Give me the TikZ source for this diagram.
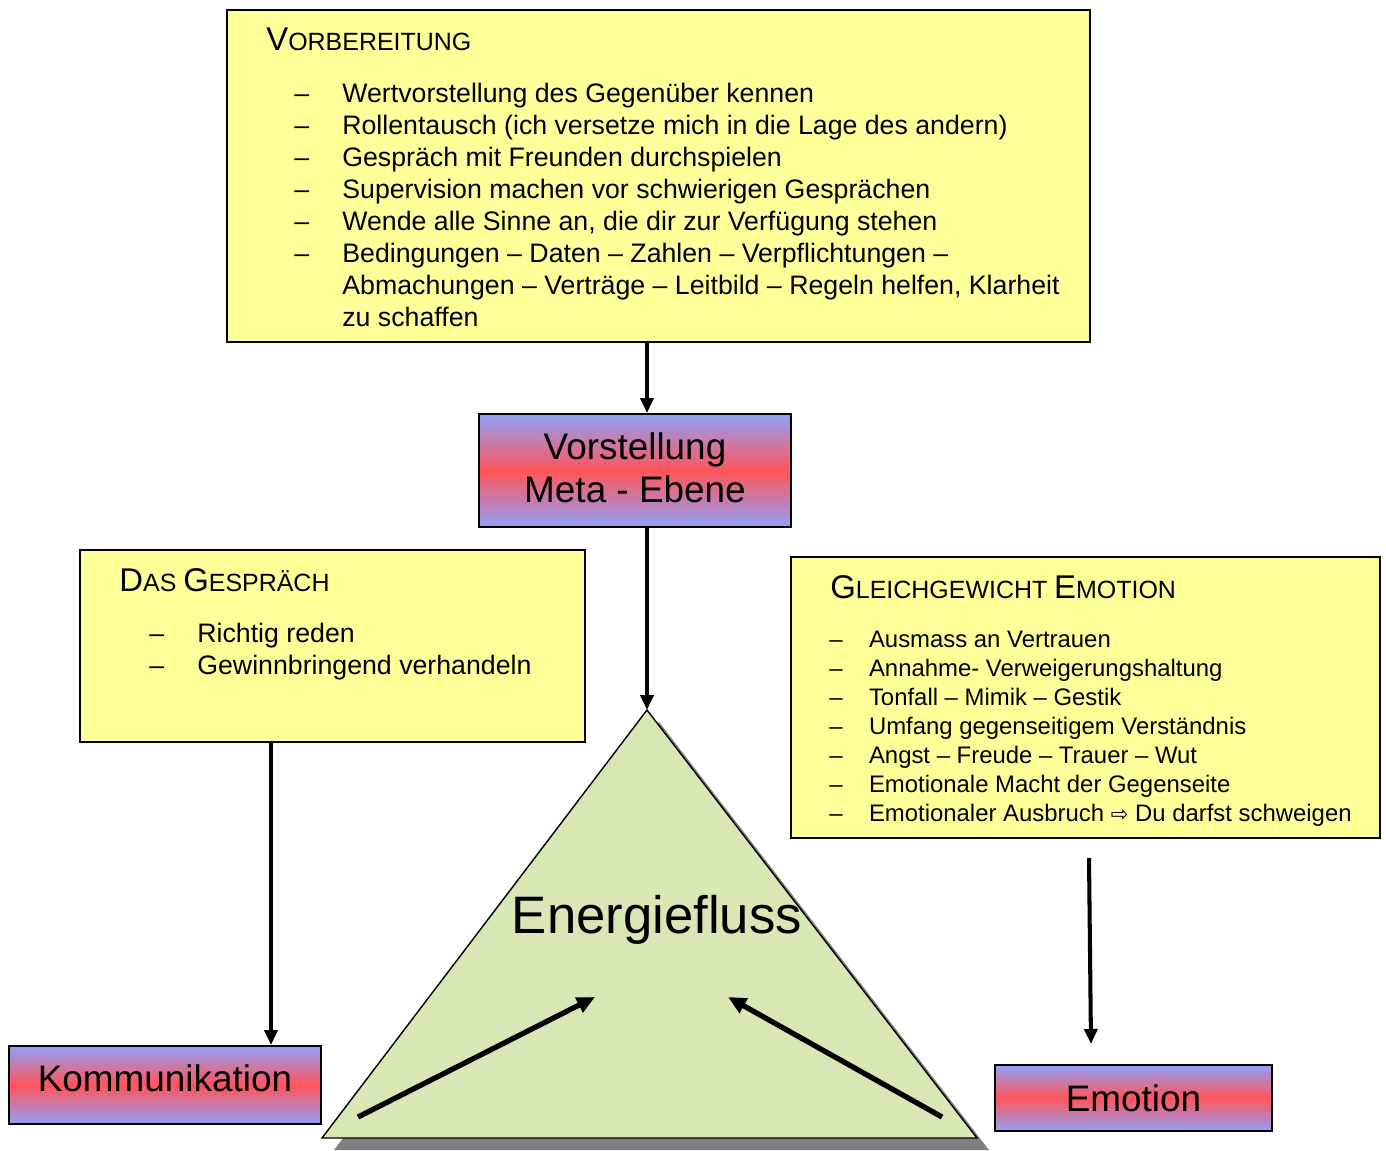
\documentclass[tikz,border=0pt]{standalone}
\usepackage{fontspec}
\setmainfont{Liberation Sans}
\newfontfamily\arrowfont{DejaVu Sans}
\usepackage{tikz}
\usetikzlibrary{positioning}
\usetikzlibrary{arrows.meta}
\usepackage{xcolor}

\definecolor{boxyellow}{RGB}{255,255,153}
\definecolor{trigreen}{RGB}{216,232,180}
\definecolor{shadeblue}{RGB}{145,160,250}
\definecolor{shadered}{RGB}{255,85,90}
\definecolor{shadowgray}{RGB}{128,128,128}

\newcommand{\scap}[2]{{\fontsize{18.7}{22}\selectfont #1}{\fontsize{14.2}{17}\selectfont #2}}
\newcommand{\dashitem}[1][0.96cm]{\makebox[#1][l]{–}}

\begin{document}
\begin{tikzpicture}[
  note/.style={draw, line width=1.1pt, fill=boxyellow, inner sep=0pt},
  notetitle/.style={inner sep=0pt},
  notelist/.style={inner sep=0pt, align=left, font=\fontsize{15.2}{18.2}\selectfont},
  smalllist/.style={inner sep=0pt, align=left, font=\fontsize{13.6}{16.5}\selectfont},
  level/.style={draw, line width=1.1pt, inner sep=0pt, align=center,
    top color=shadeblue, bottom color=shadeblue, middle color=shadered,
    font=\fontsize{21}{24.4}\selectfont},
  arrow/.style={-{Triangle[length=0.3cm, width=0.26cm]}, line width=2.3pt},
  flow/.style={-{Triangle[length=0.36cm, width=0.32cm]}, line width=3pt}
]
\useasboundingbox (0,0) rectangle (27.72,23);

% Preparation
\node[note, minimum width=17.26cm, minimum height=6.64cm] (vorb) at (13.17,19.48) {};
\node[notetitle, below right=0.38cm and 0.8cm of vorb.north west] (vorbtitle) {\scap{V}{ORBEREITUNG}};
\node[notelist, below right=1.48cm and 1.36cm of vorb.north west] (vorblist) {%
\dashitem Wertvorstellung des Gegenüber kennen\\
\dashitem Rollentausch (ich versetze mich in die Lage des andern)\\
\dashitem Gespräch mit Freunden durchspielen\\
\dashitem Supervision machen vor schwierigen Gesprächen\\
\dashitem Wende alle Sinne an, die dir zur Verfügung stehen\\
\dashitem Bedingungen – Daten – Zahlen – Verpflichtungen –\\
\hspace*{0.96cm}Abmachungen – Verträge – Leitbild – Regeln helfen, Klarheit\\
\hspace*{0.96cm}zu schaffen};

% Meta level
\node[level, minimum width=6.24cm, minimum height=2.26cm, text depth=0.12cm] (meta) at (12.70,13.59) {Vorstellung\\Meta - Ebene};

% Conversation
\node[note, minimum width=10.1cm, minimum height=3.84cm] (gespr) at (6.65,10.08) {};
\node[notetitle, below right=0.38cm and 0.8cm of gespr.north west] (gesprtitle) {\scap{D}{AS }\scap{G}{ESPRÄCH}};
\node[notelist, below right=1.48cm and 1.4cm of gespr.north west] (gesprlist) {%
\dashitem Richtig reden\\
\dashitem Gewinnbringend verhandeln};

% Emotional balance
\node[note, minimum width=11.78cm, minimum height=5.62cm] (gleich) at (21.71,9.05) {};
\node[notetitle, below right=0.38cm and 0.8cm of gleich.north west] (gleichtitle) {\scap{G}{LEICHGEWICHT }\scap{E}{MOTION}};
\node[smalllist, below right=1.5cm and 0.78cm of gleich.north west] (gleichlist) {%
\dashitem[0.66cm] Ausmass an Vertrauen\\
\dashitem[0.66cm] Annahme- Verweigerungshaltung\\
\dashitem[0.66cm] Tonfall – Mimik – Gestik\\
\dashitem[0.66cm] Umfang gegenseitigem Verständnis\\
\dashitem[0.66cm] Angst – Freude – Trauer – Wut\\
\dashitem[0.66cm] Emotionale Macht der Gegenseite\\
\dashitem[0.66cm] Emotionaler Ausbruch {\arrowfont\fontsize{12}{14}\selectfont ⇨} Du darfst schweigen};

% Bottom levels
\node[level, minimum width=6.24cm, minimum height=1.56cm, text depth=0.28cm] (komm) at (3.30,1.30) {Kommunikation};
\node[level, minimum width=5.54cm, minimum height=1.32cm] (emo) at (22.67,1.04) {Emotion};

% Triangle
\coordinate (apex) at (12.94,8.8);
\coordinate (baseL) at (6.44,0.24);
\coordinate (baseR) at (19.54,0.24);
\fill[shadowgray] ([shift={(0.24,-0.24)}]apex) -- ([shift={(0.24,-0.24)}]baseL) -- ([shift={(0.24,-0.24)}]baseR) -- cycle;
\draw[fill=trigreen, line width=0.8pt] (apex) -- (baseL) -- (baseR) -- cycle;
\node[font=\fontsize{30}{36}\selectfont] (energy) at (13.14,4.6) {Energiefluss};

% Flow inside triangle
\coordinate (kin) at (7.16,0.66);
\coordinate (kout) at (11.9,3.06);
\coordinate (ein) at (18.84,0.66);
\coordinate (eout) at (14.56,3.06);
\draw[flow] (kin) -- (kout);
\draw[flow] (ein) -- (eout);

% Connections
\coordinate (kx) at (5.42,0);
\coordinate (etop) at (21.78,5.84);
\coordinate (ebot) at (21.82,2.12);
\draw[arrow] (vorb.south -| apex) -- (meta.north -| apex);
\draw[arrow] (meta.south -| apex) -- (apex);
\draw[arrow] (gespr.south -| kx) -- (komm.north -| kx);
\draw[arrow] (etop) -- (ebot);

\end{tikzpicture}
\end{document}
